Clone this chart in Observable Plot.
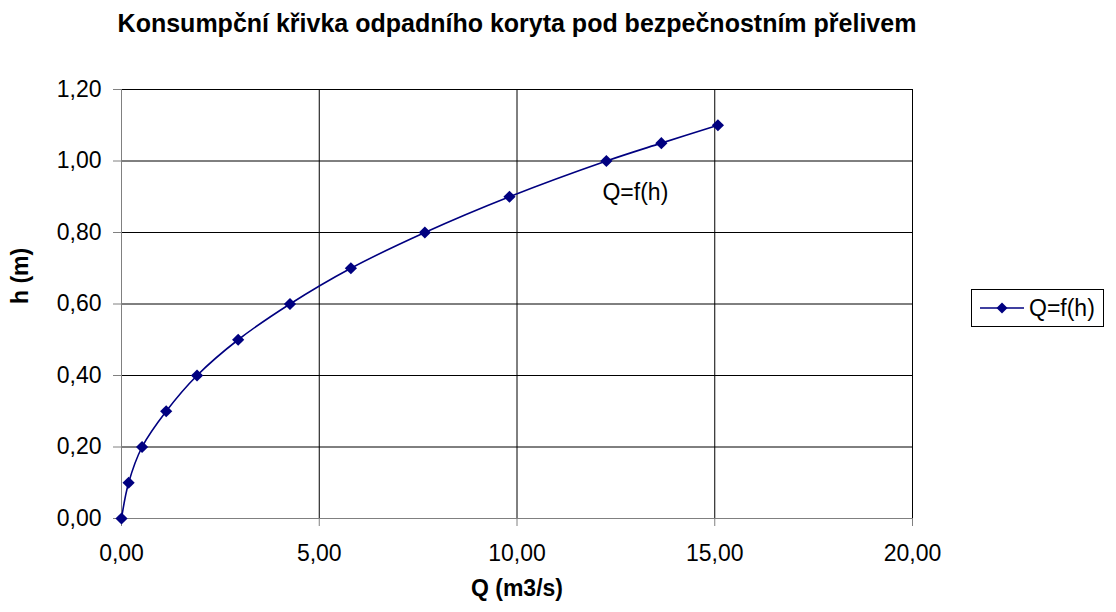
<!DOCTYPE html>
<html>
<head>
<meta charset="utf-8">
<script src="https://cdn.jsdelivr.net/npm/d3@7"></script>
<script src="https://cdn.jsdelivr.net/npm/@observablehq/plot@0.6"></script>
<style>
  body { margin: 0; background: #fff; }
  #wrap { position: relative; width: 1116px; height: 612px; font-family: "Liberation Sans", Arial, sans-serif; }
  #title { position: absolute; left: 0; top: 9px; width: 1034px; text-align: center; font-weight: bold; font-size: 25px; color: #000; }
  #legend { position: absolute; left: 971px; top: 289px; width: 131px; height: 36px; border: 1px solid #000; background: #fff; display: flex; align-items: center; font-size: 23px; color: #000; }
  #legend svg { margin-left: 8px; margin-right: 5px; }
</style>
</head>
<body>
<div id="wrap">
  <div id="title">Konsumpční křivka odpadního koryta pod bezpečnostním přelivem</div>
  <div id="chart"></div>
  <div id="legend"><svg width="44" height="14"><line x1="0" y1="7" x2="44" y2="7" stroke="#000080" stroke-width="1.5"/><polygon points="22,1.5 27.5,7 22,12.5 16.5,7" fill="#000080"/></svg><span>Q=f(h)</span></div>
</div>
<script>
const seriesName = "Q=f(h)";
const Q = [0, 0.18, 0.52, 1.13, 1.91, 2.95, 4.26, 5.80, 7.67, 9.81, 12.26, 13.65, 15.08];
const H = [0, 0.1, 0.2, 0.3, 0.4, 0.5, 0.6, 0.7, 0.8, 0.9, 1.0, 1.05, 1.1];
const xTicks = [0, 5, 10, 15, 20];
const yTicks = [0, 0.2, 0.4, 0.6, 0.8, 1.0, 1.2];
const xLabel = "Q (m3/s)";
const yLabel = "h (m)";
const labelIndex = 10;

const data = Q.map((q, i) => ({Q: q, h: H[i]}));
const fmt = d => d.toFixed(2).replace(".", ",");

const chart = Plot.plot({
  width: 1116,
  height: 612,
  marginLeft: 121,
  marginRight: 204,
  marginTop: 89,
  marginBottom: 94,
  style: {fontFamily: '"Liberation Sans", Arial, sans-serif', fontSize: "23px", color: "#000", background: "#fff"},
  x: {domain: [0, 20], label: null},
  y: {domain: [0, 1.2], label: null},
  marks: [
    Plot.gridX(xTicks, {stroke: "#000", strokeOpacity: 1}),
    Plot.gridY(yTicks, {stroke: "#000", strokeOpacity: 1}),
    Plot.axisX(xTicks, {tickFormat: fmt, tickSize: 8, tickPadding: 18, stroke: "#808080", fill: "#000", fontSize: 23, label: null}),
    Plot.axisY(yTicks, {tickFormat: fmt, tickSize: 8, tickPadding: 12, stroke: "#808080", fill: "#000", fontSize: 23, label: null}),
    Plot.ruleX([0], {stroke: "#808080"}),
    Plot.ruleY([0], {stroke: "#808080"}),
    Plot.line(data, {x: "Q", y: "h", curve: "catmull-rom", stroke: "#000080", strokeWidth: 1.6}),
    Plot.dot(data, {x: "Q", y: "h", symbol: "diamond2", r: 5.5, fill: "#000080", stroke: null}),
    Plot.text([data[labelIndex]], {x: "Q", y: "h", text: () => seriesName, dx: 29, dy: 32, fontSize: 23, fill: "#000"}),
    Plot.text([xLabel], {frameAnchor: "bottom", dy: 77, fontWeight: "bold", fontSize: 23, fill: "#000"}),
    Plot.text([yLabel], {frameAnchor: "left", dx: -101, rotate: -90, fontWeight: "bold", fontSize: 23, fill: "#000"})
  ]
});
document.getElementById("chart").appendChild(chart);
</script>
</body>
</html>
